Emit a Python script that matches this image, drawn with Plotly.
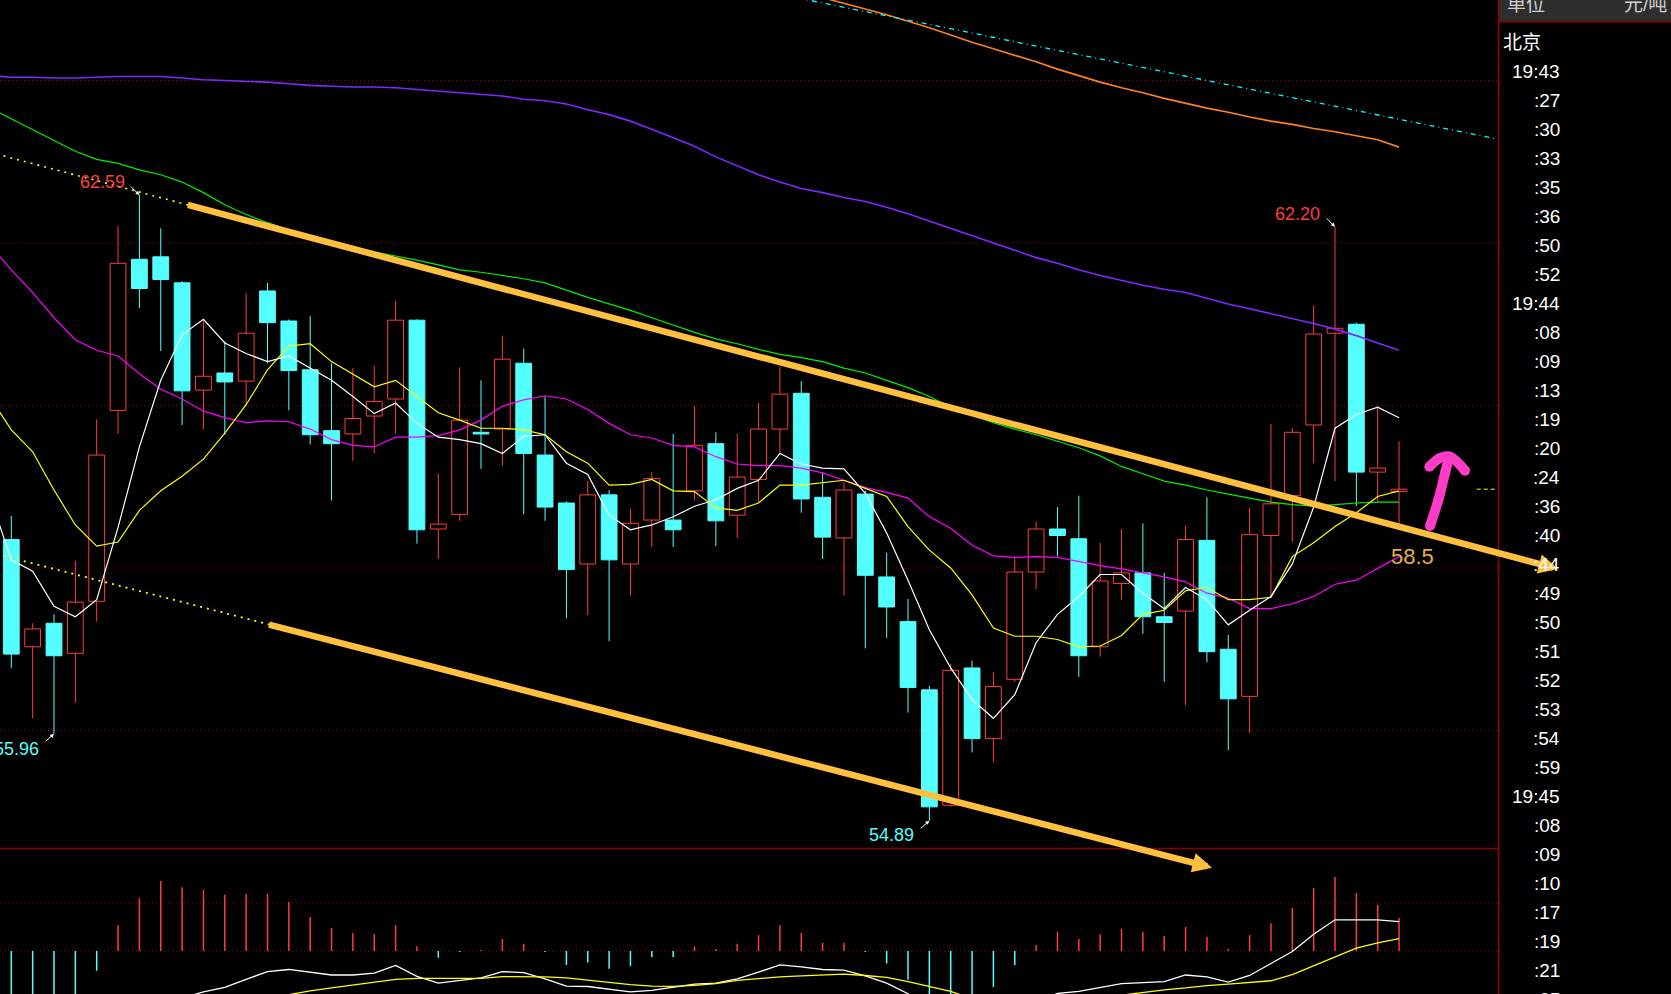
import plotly.graph_objects as go

# ---------------- data ----------------
candle_index = list(range(66))
opens = [58.35, 57.03, 57.32, 56.95, 57.59, 59.94, 61.80, 61.83, 61.51, 60.19,
         60.40, 60.30, 61.41, 61.04, 60.44, 59.69, 59.65, 59.87, 60.08, 61.05,
         58.48, 58.66, 59.67, 59.71, 60.52, 59.39, 58.80, 58.05, 58.90, 58.05,
         58.59, 58.59, 58.95, 59.53, 58.65, 59.09, 59.71, 60.15, 58.87, 58.37,
         58.91, 57.89, 57.34, 56.50, 55.08, 56.77, 55.90, 56.63, 57.95, 58.48,
         58.36, 57.03, 57.81, 57.94, 57.40, 57.47, 58.34, 57.00, 56.42, 58.40,
         58.89, 59.76, 60.89, 61.00, 59.18, 58.94]
highs = [58.64, 57.32, 57.43, 58.09, 59.83, 62.21, 62.59, 62.18, 61.53, 61.05,
         60.79, 61.38, 61.51, 61.06, 61.10, 60.52, 60.46, 60.49, 61.29, 61.06,
         59.16, 60.47, 60.31, 60.86, 60.70, 60.11, 58.82, 59.07, 58.96, 58.73,
         59.18, 59.65, 59.99, 59.67, 59.65, 60.03, 60.48, 60.30, 59.18, 59.06,
         58.95, 58.19, 57.62, 56.55, 56.82, 56.86, 56.72, 58.12, 58.57, 58.75,
         58.89, 58.31, 58.48, 58.55, 57.94, 58.52, 58.87, 57.18, 58.74, 59.77,
         59.72, 61.23, 62.20, 61.02, 59.99, 59.56]
lows = [56.77, 56.15, 55.96, 56.34, 57.34, 59.65, 61.20, 60.67, 59.76, 59.71,
        59.64, 59.99, 60.52, 59.94, 59.52, 58.83, 59.32, 59.41, 59.65, 58.30,
        58.11, 58.58, 59.22, 59.26, 58.66, 58.58, 57.38, 57.42, 57.10, 57.66,
        58.26, 58.26, 58.83, 58.27, 58.37, 58.81, 59.41, 58.68, 58.11, 57.66,
        57.01, 57.14, 56.22, 54.89, 55.06, 55.73, 55.61, 56.60, 57.74, 58.14,
        56.66, 56.91, 57.61, 57.19, 56.60, 56.31, 56.84, 55.76, 55.97, 57.63,
        58.32, 59.29, 59.07, 58.76, 58.80, 58.53]
closes = [56.94, 57.25, 56.92, 57.58, 59.39, 61.75, 61.44, 61.55, 60.18, 60.36,
          60.29, 60.89, 61.02, 60.43, 59.64, 59.53, 59.84, 60.05, 61.05, 58.47,
          58.54, 59.82, 59.65, 60.57, 59.41, 58.75, 57.98, 58.90, 58.10, 58.55,
          59.10, 58.47, 59.51, 58.58, 59.12, 59.71, 60.14, 58.85, 58.38, 58.96,
          57.91, 57.52, 56.53, 55.06, 56.74, 55.90, 56.54, 57.95, 58.48, 58.40,
          56.92, 57.84, 57.94, 57.40, 57.33, 58.35, 56.97, 56.39, 58.41, 58.79,
          59.67, 60.88, 60.95, 59.18, 59.23, 58.97]

ma_index = list(range(-1, 66))
ma5 = [58.88, 58.10, 57.96, 57.53, 57.40, 57.61, 58.50, 59.49, 60.31, 60.87,
       61.06, 60.77, 60.64, 60.54, 60.61, 60.46, 60.31, 60.11, 59.90, 60.03,
       59.78, 59.61, 59.58, 59.53, 59.41, 59.62, 59.64, 59.29, 59.15, 58.65,
       58.47, 58.53, 58.63, 58.76, 58.84, 58.98, 59.08, 59.41, 59.28, 59.23,
       59.22, 58.92, 58.43, 57.85, 57.24, 56.77, 56.38, 56.15, 56.44, 57.08,
       57.43, 57.65, 57.92, 57.92, 57.69, 57.50, 57.76, 57.61, 57.30, 57.48,
       57.65, 58.05, 58.75, 59.72, 59.89, 59.98, 59.85]
ma10 = [60.10, 59.70, 59.43, 58.96, 58.53, 58.27, 58.32, 58.71, 58.95, 59.13,
        59.34, 59.66, 60.01, 60.44, 60.73, 60.76, 60.54, 60.39, 60.23, 60.31,
        60.11, 59.91, 59.82, 59.72, 59.72, 59.70, 59.64, 59.43, 59.29, 59.02,
        59.03, 59.09, 58.95, 58.94, 58.74, 58.71, 58.80, 59.02, 59.02, 59.05,
        59.08, 58.98, 58.88, 58.51, 58.22, 58.00, 57.67, 57.26, 57.16, 57.16,
        57.12, 57.03, 57.04, 57.17, 57.43, 57.48, 57.72, 57.76, 57.61, 57.61,
        57.64, 58.14, 58.31, 58.51, 58.68, 58.88, 58.95]
ma20 = [61.97, 61.67, 61.39, 61.08, 60.81, 60.68, 60.61, 60.39, 60.20, 60.08,
        59.93, 59.85, 59.79, 59.81, 59.80, 59.71, 59.58, 59.51, 59.49, 59.61,
        59.61, 59.63, 59.70, 59.82, 59.99, 60.07, 60.12, 60.08, 59.95, 59.78,
        59.64, 59.60, 59.51, 59.49, 59.37, 59.28, 59.26, 59.26, 59.23, 59.17,
        59.08, 58.99, 58.93, 58.86, 58.63, 58.49, 58.28, 58.15, 58.13, 58.14,
        58.13, 58.08, 58.03, 57.99, 57.94, 57.89, 57.83, 57.69, 57.63, 57.50,
        57.50, 57.56, 57.65, 57.80, 57.85, 58.00, 58.14]
ma60 = [63.66, 63.53, 63.39, 63.26, 63.13, 63.03, 62.98, 62.90, 62.84, 62.75,
        62.62, 62.47, 62.35, 62.25, 62.16, 62.07, 62.01, 61.95, 61.89, 61.84,
        61.79, 61.73, 61.67, 61.64, 61.60, 61.56, 61.51, 61.42, 61.33, 61.25,
        61.17, 61.08, 60.99, 60.90, 60.82, 60.76, 60.69, 60.63, 60.59, 60.54,
        60.46, 60.40, 60.31, 60.22, 60.11, 59.98, 59.88, 59.79, 59.71, 59.64,
        59.56, 59.48, 59.38, 59.25, 59.16, 59.07, 59.02, 58.96, 58.91, 58.86,
        58.81, 58.78, 58.76, 58.78, 58.80, 58.81, 58.81]
ma120 = [64.06, 64.04, 64.04, 64.03, 64.03, 64.04, 64.05, 64.05, 64.05, 64.03,
         64.01, 64.00, 63.99, 63.98, 63.96, 63.94, 63.93, 63.92, 63.92, 63.91,
         63.89, 63.87, 63.85, 63.83, 63.81, 63.77, 63.75, 63.71, 63.64, 63.58,
         63.50, 63.40, 63.30, 63.19, 63.06, 62.95, 62.84, 62.75, 62.67, 62.62,
         62.56, 62.51, 62.44, 62.36, 62.27, 62.18, 62.09, 62.00, 61.91, 61.82,
         61.75, 61.67, 61.60, 61.54, 61.48, 61.43, 61.39, 61.32, 61.25, 61.19,
         61.13, 61.07, 61.01, 60.94, 60.86, 60.77, 60.68]
ma250_index = list(range(36, 66))
ma250 = [65.16, 65.09, 65.02, 64.95, 64.88, 64.81, 64.73, 64.65, 64.56, 64.47,
         64.39, 64.31, 64.23, 64.14, 64.06, 63.98, 63.91, 63.85, 63.78, 63.72,
         63.66, 63.61, 63.55, 63.50, 63.46, 63.41, 63.37, 63.32, 63.27, 63.18]

macd_hist = [-1.8, -1.7, -1.6, -1.2, -0.41, 0.54, 1.10, 1.46, 1.33, 1.27,
             1.17, 1.19, 1.19, 1.02, 0.71, 0.48, 0.375, 0.35, 0.54, 0.10,
             -0.14, -0.02, 0.02, 0.25, 0.15, -0.02, -0.29, -0.24, -0.37, -0.31,
             -0.125, -0.125, 0.09, 0.04, 0.15, 0.33, 0.54, 0.375, 0.17, 0.17,
             -0.02, -0.26, -0.60, -1.0, -0.94, -0.95, -0.75, -0.29, 0.125, 0.40,
             0.25, 0.35, 0.46, 0.40, 0.31, 0.50, 0.29, 0.04, 0.33, 0.58,
             0.90, 1.31, 1.54, 1.21, 0.96, 0.69]
macd_dif = [-2.6, -2.7, -2.8, -2.75, -2.4, -1.87, -1.45, -1.09, -0.985, -0.85,
            -0.76, -0.59, -0.43, -0.385, -0.45, -0.50, -0.50, -0.46, -0.30, -0.53,
            -0.67, -0.62, -0.56, -0.43, -0.45, -0.58, -0.73, -0.74, -0.80, -0.85,
            -0.82, -0.76, -0.69, -0.67, -0.58, -0.44, -0.29, -0.33, -0.385, -0.40,
            -0.52, -0.67, -0.89, -1.24, -1.35, -1.47, -1.47, -1.275, -1.05, -0.885,
            -0.84, -0.76, -0.68, -0.66, -0.64, -0.50, -0.54, -0.65, -0.51, -0.26,
            -0.01, 0.35, 0.65, 0.65, 0.65, 0.61]
macd_dea = [-1.7, -1.85, -2.0, -2.15, -2.2, -2.14, -2.0, -1.82, -1.65, -1.49,
            -1.35, -1.18, -1.02, -0.91, -0.83, -0.77, -0.71, -0.65, -0.59, -0.57,
            -0.57, -0.57, -0.57, -0.535, -0.535, -0.54, -0.56, -0.61, -0.66, -0.70,
            -0.73, -0.735, -0.715, -0.68, -0.61, -0.57, -0.54, -0.52, -0.50, -0.48,
            -0.51, -0.55, -0.64, -0.74, -0.84, -1.0, -1.09, -1.13, -1.11, -1.06,
            -1.02, -0.97, -0.92, -0.86, -0.81, -0.77, -0.72, -0.69, -0.66, -0.62,
            -0.49, -0.31, -0.13, 0.06, 0.17, 0.26]

price_grid = [64, 62, 60, 58, 56]
macd_grid = [1, 0]

# hand-drawn trend lines (index, price)
upper_dotted_x, upper_dotted_y = [-1, 9.49], [63.117, 62.383]
upper_arrow_tail, upper_arrow_tip = (8.2, 62.473), (72.45, 57.988)
lower_dotted_x, lower_dotted_y = [-1, 12.96], [58.192, 57.245]
lower_arrow_tail, lower_arrow_tip = (12.0, 57.308), (56.24, 54.312)
cyan_trend_x, cyan_trend_y = [33.0, 69.6], [65.22, 63.28]
pink_stem_x, pink_stem_y = [66.45, 66.84, 67.15, 67.35], [58.517, 58.837, 59.166, 59.370]
pink_hook_x, pink_hook_y = [66.42, 66.92, 67.39, 68.09], [59.247, 59.354, 59.370, 59.198]

time_labels = ["19:43", ":27", ":30", ":33", ":35", ":36", ":50", ":52", "19:44", ":08",
               ":09", ":13", ":19", ":20", ":24", ":36", ":40", ":44", ":49", ":50",
               ":51", ":52", ":53", ":54", ":59", "19:45", ":08", ":09", ":10", ":17",
               ":19", ":21", ":25"]

# ---------------- styling ----------------
W, H = 1671, 994
PLOT_W = 1498
RED = "#FF3C3C"
CYAN = "#54FFFF"
GRID = "#9A0000"
FONT = "Liberation Sans, Arial, Noto Sans CJK SC, sans-serif"


def xp(px):
    return px / PLOT_W


def yp(py):
    return 1 - py / H


fig = go.Figure()

# candle bodies
up = [i for i in candle_index if closes[i] >= opens[i]]
dn = [i for i in candle_index if closes[i] < opens[i]]
fig.add_trace(go.Bar(
    x=up, y=[closes[i] - opens[i] for i in up], base=[opens[i] for i in up],
    width=0.74, marker=dict(color="#000000", line=dict(color=RED, width=1)),
    hoverinfo="skip", showlegend=False))
fig.add_trace(go.Bar(
    x=dn, y=[opens[i] - closes[i] for i in dn], base=[closes[i] for i in dn],
    width=0.74, marker=dict(color=CYAN, line=dict(color=CYAN, width=1)),
    hoverinfo="skip", showlegend=False))


def wick_segments(ids):
    X, Y = [], []
    for i in ids:
        top = max(opens[i], closes[i])
        bot = min(opens[i], closes[i])
        X += [i, i, None, i, i, None]
        Y += [top, highs[i], None, bot, lows[i], None]
    return X, Y


for ids, col in ((up, RED), (dn, CYAN)):
    wx, wy = wick_segments(ids)
    fig.add_trace(go.Scatter(x=wx, y=wy, mode="lines", line=dict(color=col, width=1),
                             hoverinfo="skip", showlegend=False))

# moving averages
for vals, col, w in ((ma120, "#7F28FF", 1.6), (ma60, "#00F000", 1.2), (ma20, "#FF00FF", 1.2),
                     (ma10, "#FFFF00", 1.2), (ma5, "#FFFFFF", 1.2)):
    fig.add_trace(go.Scatter(x=ma_index, y=vals, mode="lines", line=dict(color=col, width=w),
                             hoverinfo="skip", showlegend=False))
fig.add_trace(go.Scatter(x=ma250_index, y=ma250, mode="lines", line=dict(color="#FF8020", width=1.6),
                         hoverinfo="skip", showlegend=False))

# dotted trend lines
fig.add_trace(go.Scatter(x=cyan_trend_x, y=cyan_trend_y, mode="lines",
                         line=dict(color="#00FFFF", width=1.3, dash="5px,4px,1px,4px"),
                         hoverinfo="skip", showlegend=False))
for xs, ys in ((upper_dotted_x, upper_dotted_y), (lower_dotted_x, lower_dotted_y)):
    fig.add_trace(go.Scatter(x=xs, y=ys, mode="lines",
                             line=dict(color="#FFFF00", width=1.6, dash="2px,5px"),
                             hoverinfo="skip", showlegend=False))

# pink hand-drawn arrow
for xs, ys in ((pink_stem_x, pink_stem_y), (pink_hook_x, pink_hook_y)):
    fig.add_trace(go.Scatter(x=xs, y=ys, mode="lines+markers", line=dict(color="#FF3CC8", width=10, shape="spline"),
                             marker=dict(color="#FF3CC8", size=10), hoverinfo="skip", showlegend=False))

# MACD panel
pos = [i for i in candle_index if macd_hist[i] >= 0]
neg = [i for i in candle_index if macd_hist[i] < 0]
for ids, col in ((pos, RED), (neg, CYAN)):
    X, Y = [], []
    for i in ids:
        X += [i, i, None]
        Y += [0, macd_hist[i], None]
    fig.add_trace(go.Scatter(x=X, y=Y, yaxis="y2", mode="lines", line=dict(color=col, width=1.5),
                             hoverinfo="skip", showlegend=False))
fig.add_trace(go.Scatter(x=candle_index, y=macd_dif, yaxis="y2", mode="lines",
                         line=dict(color="#FFFFFF", width=1.3), hoverinfo="skip", showlegend=False))
fig.add_trace(go.Scatter(x=candle_index, y=macd_dea, yaxis="y2", mode="lines",
                         line=dict(color="#FFFF00", width=1.3), hoverinfo="skip", showlegend=False))

# ---------------- shapes ----------------
shapes = []
for g in price_grid:
    shapes.append(dict(type="line", xref="paper", x0=0, x1=1, yref="y", y0=g, y1=g, layer="below",
                       line=dict(color=GRID, width=1, dash="1px,3px")))
for g in macd_grid:
    shapes.append(dict(type="line", xref="paper", x0=0, x1=1, yref="y2", y0=g, y1=g, layer="below",
                       line=dict(color=GRID, width=1, dash="1px,3px")))
# current price marker
shapes.append(dict(type="line", xref="x", yref="y", x0=68.64, x1=69.6, y0=closes[-1], y1=closes[-1],
                   line=dict(color="#FFFF00", width=1, dash="4px,3px")))
# panel separators
shapes.append(dict(type="line", xref="paper", yref="paper", x0=0, x1=1, y0=yp(848.5), y1=yp(848.5),
                   line=dict(color="#8A0000", width=1.5), layer="above"))
shapes.append(dict(type="rect", xref="paper", yref="paper", x0=xp(1499), x1=xp(1672), y0=yp(21.7), y1=1.01,
                   fillcolor="#2E2E2E", line=dict(width=0), layer="above"))
shapes.append(dict(type="line", xref="paper", yref="paper", x0=xp(1499), x1=xp(1672), y0=yp(22), y1=yp(22),
                   line=dict(color="#8A0000", width=1.5), layer="above"))
shapes.append(dict(type="line", xref="paper", yref="paper", x0=xp(1498.5), x1=xp(1498.5), y0=0, y1=1,
                   line=dict(color="#9B0000", width=1.5), layer="above"))

# ---------------- annotations ----------------
ann = []
TREND = "#FFBF3F"
for tail, tip in ((upper_arrow_tail, upper_arrow_tip), (lower_arrow_tail, lower_arrow_tip)):
    ann.append(dict(x=tip[0], y=tip[1], ax=tail[0], ay=tail[1], xref="x", yref="y", axref="x", ayref="y",
                    text="", showarrow=True, arrowhead=2, arrowsize=0.6, arrowwidth=6.5, arrowcolor=TREND))

# extreme-price labels
extremes = [("62.59", 6, highs[6], RED, -10, -10, -37, 13),
            ("62.20", 62, highs[62], RED, -10, -10, -38, 13),
            ("54.89", 43, lows[43], CYAN, -10, 9, -38, -14),
            ("55.96", 2, lows[2], CYAN, -10, 9, -38, -15)]
for txt, xi, yv, col, axo, ayo, xs, ys in extremes:
    ann.append(dict(x=xi, y=yv, xref="x", yref="y", text="", showarrow=True, ax=axo, ay=ayo,
                    arrowhead=2, arrowsize=0.8, arrowwidth=1, arrowcolor="#FFFFFF"))
    ann.append(dict(x=xi, y=yv, xref="x", yref="y", text=txt, showarrow=False, xshift=xs, yshift=ys,
                    font=dict(family=FONT, size=18, color=col)))

ann.append(dict(x=65.63, y=58.139, xref="x", yref="y", text="58.5", showarrow=False,
                font=dict(family=FONT, size=22, color="#E8B040")))

# right panel
ann.append(dict(x=xp(1505), y=yp(4), xref="paper", yref="paper", text="单位", showarrow=False,
                xanchor="left", yanchor="middle", font=dict(family=FONT, size=19, color="#D0D0D0")))
ann.append(dict(x=xp(1622), y=yp(4), xref="paper", yref="paper", text="元/吨", showarrow=False,
                xanchor="left", yanchor="middle", font=dict(family=FONT, size=19, color="#D0D0D0")))
ann.append(dict(x=xp(1501), y=yp(42.7), xref="paper", yref="paper", text="北京", showarrow=False,
                xanchor="left", yanchor="middle", font=dict(family=FONT, size=19, color="#FFFFFF")))
for k, t in enumerate(time_labels):
    ann.append(dict(x=xp(1562), y=yp(71.7 + 29.0 * k), xref="paper", yref="paper", text=t,
                    showarrow=False, xanchor="right", yanchor="middle",
                    font=dict(family=FONT, size=19, color="#FFFFFF")))

fig.update_layout(
    width=W, height=H,
    margin=dict(l=0, r=W - PLOT_W, t=0, b=0),
    paper_bgcolor="#000000", plot_bgcolor="#000000",
    barmode="overlay", showlegend=False,
    xaxis=dict(range=[-0.5293, 69.634], visible=False, anchor="y"),
    yaxis=dict(range=[54.5538, 64.9908], domain=[1 - 848 / H, 1], visible=False),
    yaxis2=dict(range=[-0.8958, 2.125], domain=[0, 1 - 849 / H], visible=False, anchor="x"),
    shapes=shapes, annotations=ann,
    font=dict(family=FONT),
)

fig.write_html(
    "out.html",
    config={"displayModeBar": False, "staticPlot": True},
    post_script="document.body.style.margin='0px';document.body.style.overflow='hidden';"
                "document.body.style.background='#000';",
)
